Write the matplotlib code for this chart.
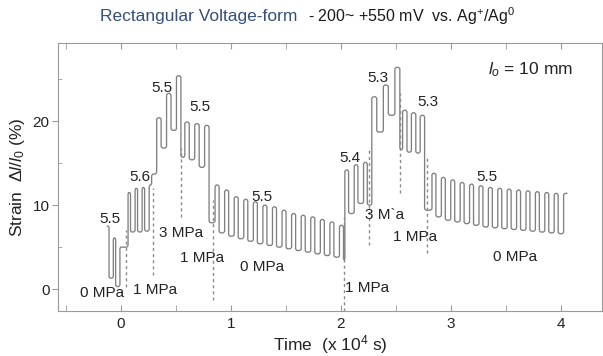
import numpy as np
import matplotlib
matplotlib.use("Agg")
import matplotlib.pyplot as plt
from matplotlib.path import Path
from matplotlib.patches import PathPatch
from matplotlib.ticker import MultipleLocator

plt.rcParams["font.family"] = ["Liberation Sans", "DejaVu Sans"]
plt.rcParams["mathtext.fontset"] = "custom"
plt.rcParams["mathtext.rm"] = "Liberation Sans"
plt.rcParams["mathtext.it"] = "Liberation Sans:italic"

# strain trace, one entry per pressure step (time in 1e4 s, strain in %)
seg_start = [-0.13, 0.064, 0.324, 0.58, 0.855, 2.035, 2.28, 2.56, 2.827]
seg_period = [0.06, 0.064, 0.09, 0.09, 0.087, 0.085, 0.105, 0.08, 0.0855]
seg_tops = [
    [7.5, 6.1, 5.0],
    [11.5, 12.0, 12.1, 12.4],
    [20.4, 23.3, 25.4],
    [19.9, 19.7, 19.5],
    [12.4, 11.8, 11.0, 10.7, 10.4, 10.0, 9.8, 9.4, 9.0, 8.8, 8.6, 8.3, 8.0, 7.6],
    [14.2, 14.8, 15.1],
    [22.9, 24.3, 26.4],
    [21.3, 21.0, 20.7],
    [13.8, 13.3, 13.0, 12.7, 12.5, 12.3, 12.1, 12.0, 11.9, 11.8, 11.7, 11.6, 11.5, 11.4, 11.4],
]
seg_lows = [
    [1.3, 0.3, 5.0],
    [6.8, 6.8, 6.9, 13.7],
    [16.8, 18.9, 15.7],
    [15.4, 14.5, 7.9],
    [6.7, 6.3, 6.0, 5.7, 5.4, 5.2, 5.0, 4.8, 4.6, 4.4, 4.2, 4.0, 3.8, 3.5],
    [9.0, 10.2, 10.0, 16.0],
    [18.7, 20.7, 16.6],
    [16.3, 16.2, 9.4],
    [8.6, 8.2, 8.0, 7.8, 7.6, 7.4, 7.3, 7.2, 7.1, 7.0, 6.9, 6.8, 6.7, 6.6],
]
seg_duty = [0.35, 0.35, 0.45, 0.45, 0.42, 0.4, 0.43, 0.5, 0.42]

# dashed markers where the pressure changes
step_t = [0.045, 0.29, 0.545, 0.835, 2.03, 2.255, 2.535, 2.78]
step_lo = [0.3, 1.7, 8.6, -1.3, -2.6, 5.2, 11.5, 4.3]
step_hi = [7.0, 12.0, 16.8, 10.6, 8.6, 16.9, 23.3, 15.7]

labels = [
    ("5.5", -0.10, 8.3), ("0 MPa", -0.17, -0.4), ("1 MPa", 0.31, -0.1),
    ("5.6", 0.17, 13.3), ("5.5", 0.37, 24.0), ("5.5", 0.72, 21.7),
    ("3 MPa", 0.55, 6.7), ("1 MPa", 0.74, 3.7), ("5.5", 1.28, 11.0),
    ("0 MPa", 1.28, 2.6), ("1 MPa", 2.24, 0.1), ("5.4", 2.08, 15.6),
    ("3 M`a", 2.40, 8.8), ("5.3", 2.34, 25.1), ("5.3", 2.79, 22.3),
    ("1 MPa", 2.67, 6.2), ("5.5", 3.33, 13.3), ("0 MPa", 3.58, 3.8),
]

# build step trace
ts, vs = [], []
for st, per, du, tops, lows in zip(seg_start, seg_period, seg_duty, seg_tops, seg_lows):
    for k, top in enumerate(tops):
        t_up = st + k * per
        if ts:
            ts.append(t_up); vs.append(vs[-1])
        ts.append(t_up); vs.append(top)
        t_dn = t_up + du * per
        ts.append(t_dn); vs.append(top)
        if k < len(lows):
            ts.append(t_dn); vs.append(lows[k])

fig = plt.figure(figsize=(6.03, 3.56), dpi=100)
ax = fig.add_axes([58 / 603, 1 - 311 / 356, 544 / 603, 268 / 356])
ax.set_xlim(-0.573, 4.373)
ax.set_ylim(-2.6, 29.3)


def rounded(xs, ys, rx, ry):
    verts = [(xs[0], ys[0])]
    codes = [Path.MOVETO]
    for i in range(1, len(xs) - 1):
        p = np.array([xs[i], ys[i]])
        a = np.array([xs[i - 1], ys[i - 1]])
        b = np.array([xs[i + 1], ys[i + 1]])
        da, db = a - p, b - p
        la = np.hypot(da[0] / rx, da[1] / ry)
        lb = np.hypot(db[0] / rx, db[1] / ry)
        if la == 0 or lb == 0:
            continue
        fa = min(1.0, la / 2) / la
        fb = min(1.0, lb / 2) / lb
        verts += [tuple(p + da * fa), tuple(p), tuple(p + db * fb)]
        codes += [Path.LINETO, Path.CURVE3, Path.CURVE3]
    verts.append((xs[-1], ys[-1]))
    codes.append(Path.LINETO)
    return Path(verts, codes)


ax.add_patch(PathPatch(rounded(ts, vs, 2.2 / 110, 2.2 / 8.4), fill=False,
                       edgecolor="#808080", lw=0.95))

for t, lo, hi in zip(step_t, step_lo, step_hi):
    ax.plot([t, t], [lo, hi], color="#8a8a8a", lw=1.0, ls=(0, (2.2, 2.2)))

for txt, x, y in labels:
    ax.text(x, y, txt, fontsize=11, ha="center", va="center", color="#222222")

ax.text(3.72, 26.1, "$l_o$ = 10 mm", fontsize=12.5, ha="center", va="center", color="#222222")

for s in ax.spines.values():
    s.set_color("#9a9a9a")
ax.xaxis.set_major_locator(MultipleLocator(1))
ax.xaxis.set_minor_locator(MultipleLocator(0.5))
ax.yaxis.set_major_locator(MultipleLocator(10))
ax.yaxis.set_minor_locator(MultipleLocator(5))
ax.tick_params(axis="x", which="both", direction="in", top=True, length=4,
               color="#9a9a9a", labelsize=11, labelcolor="#222222", pad=4)
ax.tick_params(axis="y", which="major", direction="out", length=4,
               color="#9a9a9a", labelsize=11, labelcolor="#222222", pad=2)
ax.tick_params(axis="y", which="minor", direction="in", length=3, color="#9a9a9a")

ax.set_xlabel("Time  (x 10$^4$ s)", fontsize=12.5, color="#222222", labelpad=2)
ax.set_ylabel("Strain  $\\Delta l/l_0$ (%)", fontsize=12.5, color="#222222", labelpad=4)

fig.text(297 / 603, 1 - 16 / 356, "Rectangular Voltage-form", fontsize=12.5,
         color="#34507a", ha="right", va="center")
fig.text(308 / 603, 1 - 16 / 356, "- 200~ +550 mV  vs. Ag$^{+}$/Ag$^{0}$",
         fontsize=11.5, color="#1a1a1a", ha="left", va="center")

fig.savefig("out.png", dpi=100)
